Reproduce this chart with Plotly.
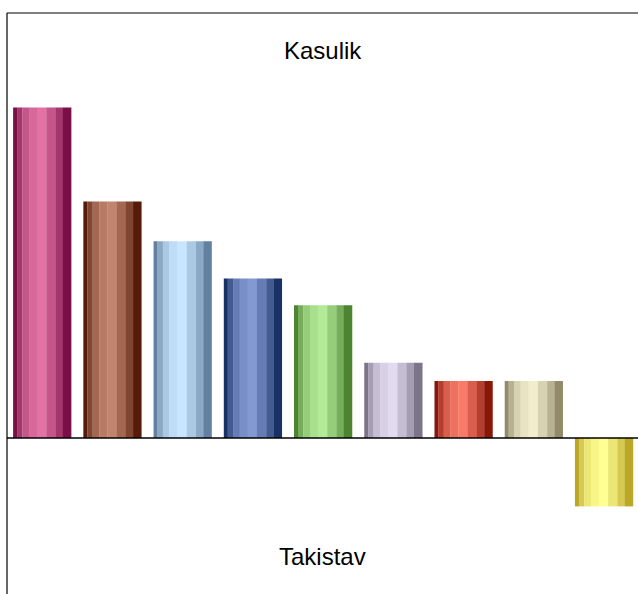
import plotly.graph_objects as go

# ---- data ----
categories = ["A", "B", "C", "D", "E", "F", "G", "H", "I"]
values = [5.8, 4.15, 3.45, 2.8, 2.33, 1.32, 1.0, 1.0, -1.2]
top_label = "Kasulik"
bottom_label = "Takistav"

# ---- styles ----
dark_colors = ["#7a0f48", "#561c08", "#62809f", "#1a3166", "#4c8432", "#7c7488",
               "#8a1606", "#928a68", "#bca628"]
light_colors = ["#e172a3", "#c2846f", "#c8e6ff", "#8299d2", "#b2ea98", "#e2daee",
                "#f97a69", "#f2eecb", "#ffff92"]
stripe_w = [4, 5.3, 6.7, 8, 9.3, 9.3, 7.3, 8.3]
profile = [0.0, 0.4, 0.72, 0.9, 1.0, 0.72, 0.4, 0.0]


def hex2rgb(h):
    h = h.lstrip("#")
    return tuple(int(h[i:i + 2], 16) for i in (0, 2, 4))


def mix(c1, c2, t):
    a, b = hex2rgb(c1), hex2rgb(c2)
    return "rgb(%d,%d,%d)" % tuple(round(a[i] + (b[i] - a[i]) * t) for i in range(3))


bar_w = 0.826
tot = sum(stripe_w)

fig = go.Figure()
pos = -bar_w / 2
for w, t in zip(stripe_w, profile):
    sw = bar_w * w / tot
    fig.add_trace(go.Bar(
        x=categories, y=values,
        width=sw * 1.03, offset=pos,
        marker=dict(color=[mix(d, l, t) for d, l in zip(dark_colors, light_colors)],
                    line=dict(width=0)),
        hoverinfo="skip", showlegend=False,
    ))
    pos += sw

fig.update_layout(
    width=638, height=594,
    margin=dict(l=7, r=0, t=13, b=0),
    paper_bgcolor="white", plot_bgcolor="white",
    barmode="overlay",
    showlegend=False,
    xaxis=dict(visible=False, range=[-0.5, 8.485]),
    yaxis=dict(visible=False, range=[-2.737, 7.456], zeroline=False, showgrid=False),
    font=dict(family="Liberation Sans, Arial, sans-serif", color="black"),
    shapes=[
        dict(type="line", xref="paper", yref="paper", x0=0, x1=0, y0=0, y1=1,
             line=dict(color="black", width=1.2)),
        dict(type="line", xref="paper", yref="paper", x0=0, x1=1, y0=1, y1=1,
             line=dict(color="black", width=1.2)),
        dict(type="line", xref="paper", yref="y", x0=0, x1=1, y0=0, y1=0,
             line=dict(color="black", width=1.5), layer="above"),
    ],
    annotations=[
        dict(text=top_label, xref="paper", yref="paper", x=0.5, y=0.936,
             showarrow=False, font=dict(size=24), xanchor="center", yanchor="middle"),
        dict(text=bottom_label, xref="paper", yref="paper", x=0.5, y=0.0654,
             showarrow=False, font=dict(size=24), xanchor="center", yanchor="middle"),
    ],
)

fig.write_html("out.html", config={"displayModeBar": False},
               post_script="document.body.style.margin='0';")
